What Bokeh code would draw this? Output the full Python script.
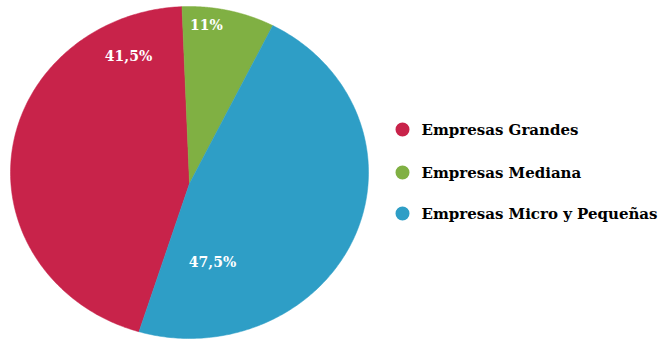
import numpy as np
from bokeh.plotting import figure
from bokeh.models import Range1d
from bokeh.core.properties import value
from bokeh.embed import file_html
from bokeh.resources import INLINE

# ---- data ----
categories = ["Empresas Grandes", "Empresas Mediana", "Empresas Micro y Pequeñas"]
shares = [44.1, 8.4, 47.5]            # slice sizes as drawn
labels = ["41,5%", "11%", "47,5%"]     # printed data labels
colors = ["#C8234A", "#80B043", "#2E9EC6"]

# ---- layout constants ----
W, H = 660, 339
CX, CY, RX, RY = 189.0, 172.0, 179.0, 166.0   # ellipse (screen px)
AX, AY = 189.0, 183.0                          # pie apex
START_DEG = 198.8                              # clockwise from up
label_pos = [(128, 55), (206, 24), (212, 261)]
legend_x, legend_text_x = 402, 421
legend_y = [129, 172, 213]
FONT = value("DejaVu Serif")

p = figure(width=W, height=H, x_range=Range1d(0, W), y_range=Range1d(H, 0),
           output_backend="svg", toolbar_location=None,
           x_axis_location=None, y_axis_location=None, min_border=0)
p.grid.visible = False
p.outline_line_color = None
p.background_fill_color = "white"
p.border_fill_color = "white"


def edge_point(theta_deg):
    t = np.radians(theta_deg)
    dx, dy = np.sin(t), -np.cos(t)
    u, v = (AX - CX) / RX, (AY - CY) / RY
    pp, qq = dx / RX, dy / RY
    a = pp * pp + qq * qq
    b = 2 * (u * pp + v * qq)
    c = u * u + v * v - 1
    s = (-b + np.sqrt(b * b - 4 * a * c)) / (2 * a)
    return AX + s * dx, AY + s * dy


total = sum(shares)
xs, ys = [], []
a0 = START_DEG
for sh in shares:
    a1 = a0 + 360.0 * sh / total
    thetas = np.linspace(a0, a1, 200)
    pts = [edge_point(t) for t in thetas]
    xs.append([AX] + [q[0] for q in pts])
    ys.append([AY] + [q[1] for q in pts])
    a0 = a1

p.patches(xs=xs, ys=ys, fill_color=colors, line_color=colors, line_width=0.5)

p.text(x=[q[0] for q in label_pos], y=[q[1] for q in label_pos], text=labels,
       text_font=FONT, text_font_style="bold", text_font_size="14px",
       text_color="white", text_align="center", text_baseline="middle")

p.scatter(x=[legend_x] * len(categories), y=legend_y, size=14,
          fill_color=colors, line_color=None)
p.text(x=[legend_text_x] * len(categories), y=legend_y, text=categories,
       text_font=FONT, text_font_style="bold", text_font_size="15px",
       text_color="black", text_align="left", text_baseline="middle")

open("out.html", "w").write(file_html(p, INLINE))
